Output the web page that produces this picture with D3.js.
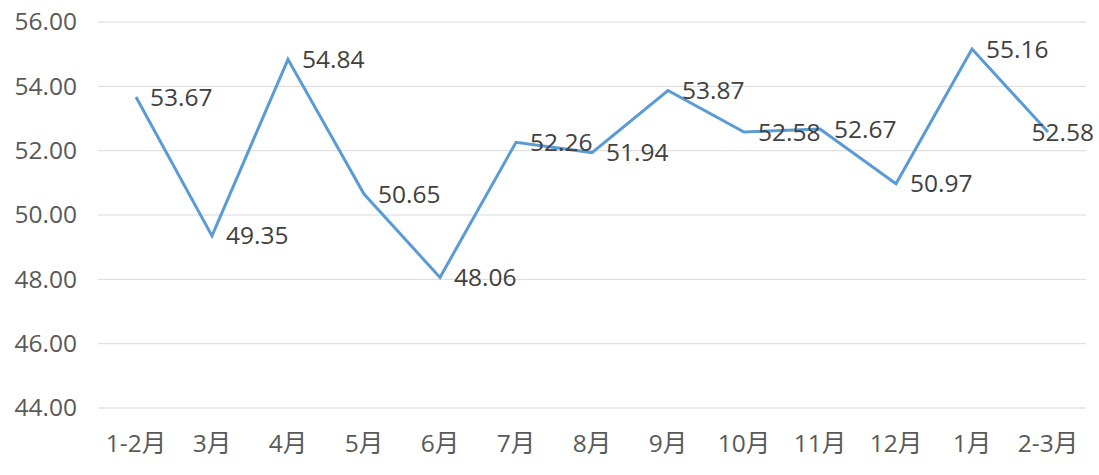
<!DOCTYPE html>
<html><head><meta charset="utf-8">
<script src="https://cdn.jsdelivr.net/npm/d3@7"></script>
<style>
html,body{margin:0;padding:0;background:#fff;}
text{font-family:"Open Sans","Noto Sans CJK SC",sans-serif;}
</style></head>
<body><svg id="c" width="1099" height="475"></svg>
<script>
const categories = ["1-2月","3月","4月","5月","6月","7月","8月","9月","10月","11月","12月","1月","2-3月"];
const values = [53.67,49.35,54.84,50.65,48.06,52.26,51.94,53.87,52.58,52.67,50.97,55.16,52.58];
const yTicks = [44,46,48,50,52,54,56];

(function(){
const svg = d3.select("#c");
const mLeft = 98, mRight = 1086, mTop = 22, mBottom = 408;
const x = d3.scaleBand().domain(categories).range([mLeft, mRight]);
const y = d3.scaleLinear().domain([44,56]).range([mBottom, mTop]);
const fs = 24.5;

// gridlines
svg.append("g").selectAll("line").data(yTicks).join("line")
  .attr("x1", mLeft).attr("x2", mRight)
  .attr("y1", d => y(d)).attr("y2", d => y(d))
  .attr("stroke", "#d9d9d9").attr("stroke-width", 1);

// y axis labels
const yAxis = d3.axisLeft(y).tickValues(yTicks).tickFormat(d3.format(".2f")).tickSize(0).tickPadding(0);
const gy = svg.append("g").attr("transform", `translate(77,0)`).call(yAxis);
gy.select(".domain").remove();
gy.selectAll("text").attr("font-size", fs).attr("fill", "#595959")
  .attr("font-family", "'Open Sans','Noto Sans CJK SC',sans-serif");

// x axis labels
const xAxis = d3.axisBottom(x).tickSize(0).tickPadding(0);
const gx = svg.append("g").attr("transform", `translate(0,${mBottom})`).call(xAxis);
gx.select(".domain").remove();
gx.selectAll("text").attr("font-size", fs).attr("fill", "#595959")
  .attr("font-family", "'Open Sans','Noto Sans CJK SC',sans-serif")
  .attr("y", 44).attr("dy", "0");

// line
const line = d3.line().x((d,i) => x(categories[i]) + x.bandwidth()/2).y(d => y(d));
svg.append("path").datum(values).attr("d", line)
  .attr("fill", "none").attr("stroke", "#5b9bd5").attr("stroke-width", 3)
  .attr("stroke-linejoin", "miter");

// data labels
const labels = svg.append("g").selectAll("text").data(values).join("text")
  .attr("x", (d,i) => x(categories[i]) + x.bandwidth()/2 + 14)
  .attr("y", d => y(d))
  .attr("dy", "0.35em")
  .attr("font-size", fs).attr("fill", "#404040")
  .text(d => d3.format(".2f")(d));
labels.each(function(){
  const bb = this.getBBox();
  const maxRight = 1094;
  if (bb.x + bb.width > maxRight) d3.select(this).attr("x", maxRight - bb.width);
});
})();
</script></body></html>
